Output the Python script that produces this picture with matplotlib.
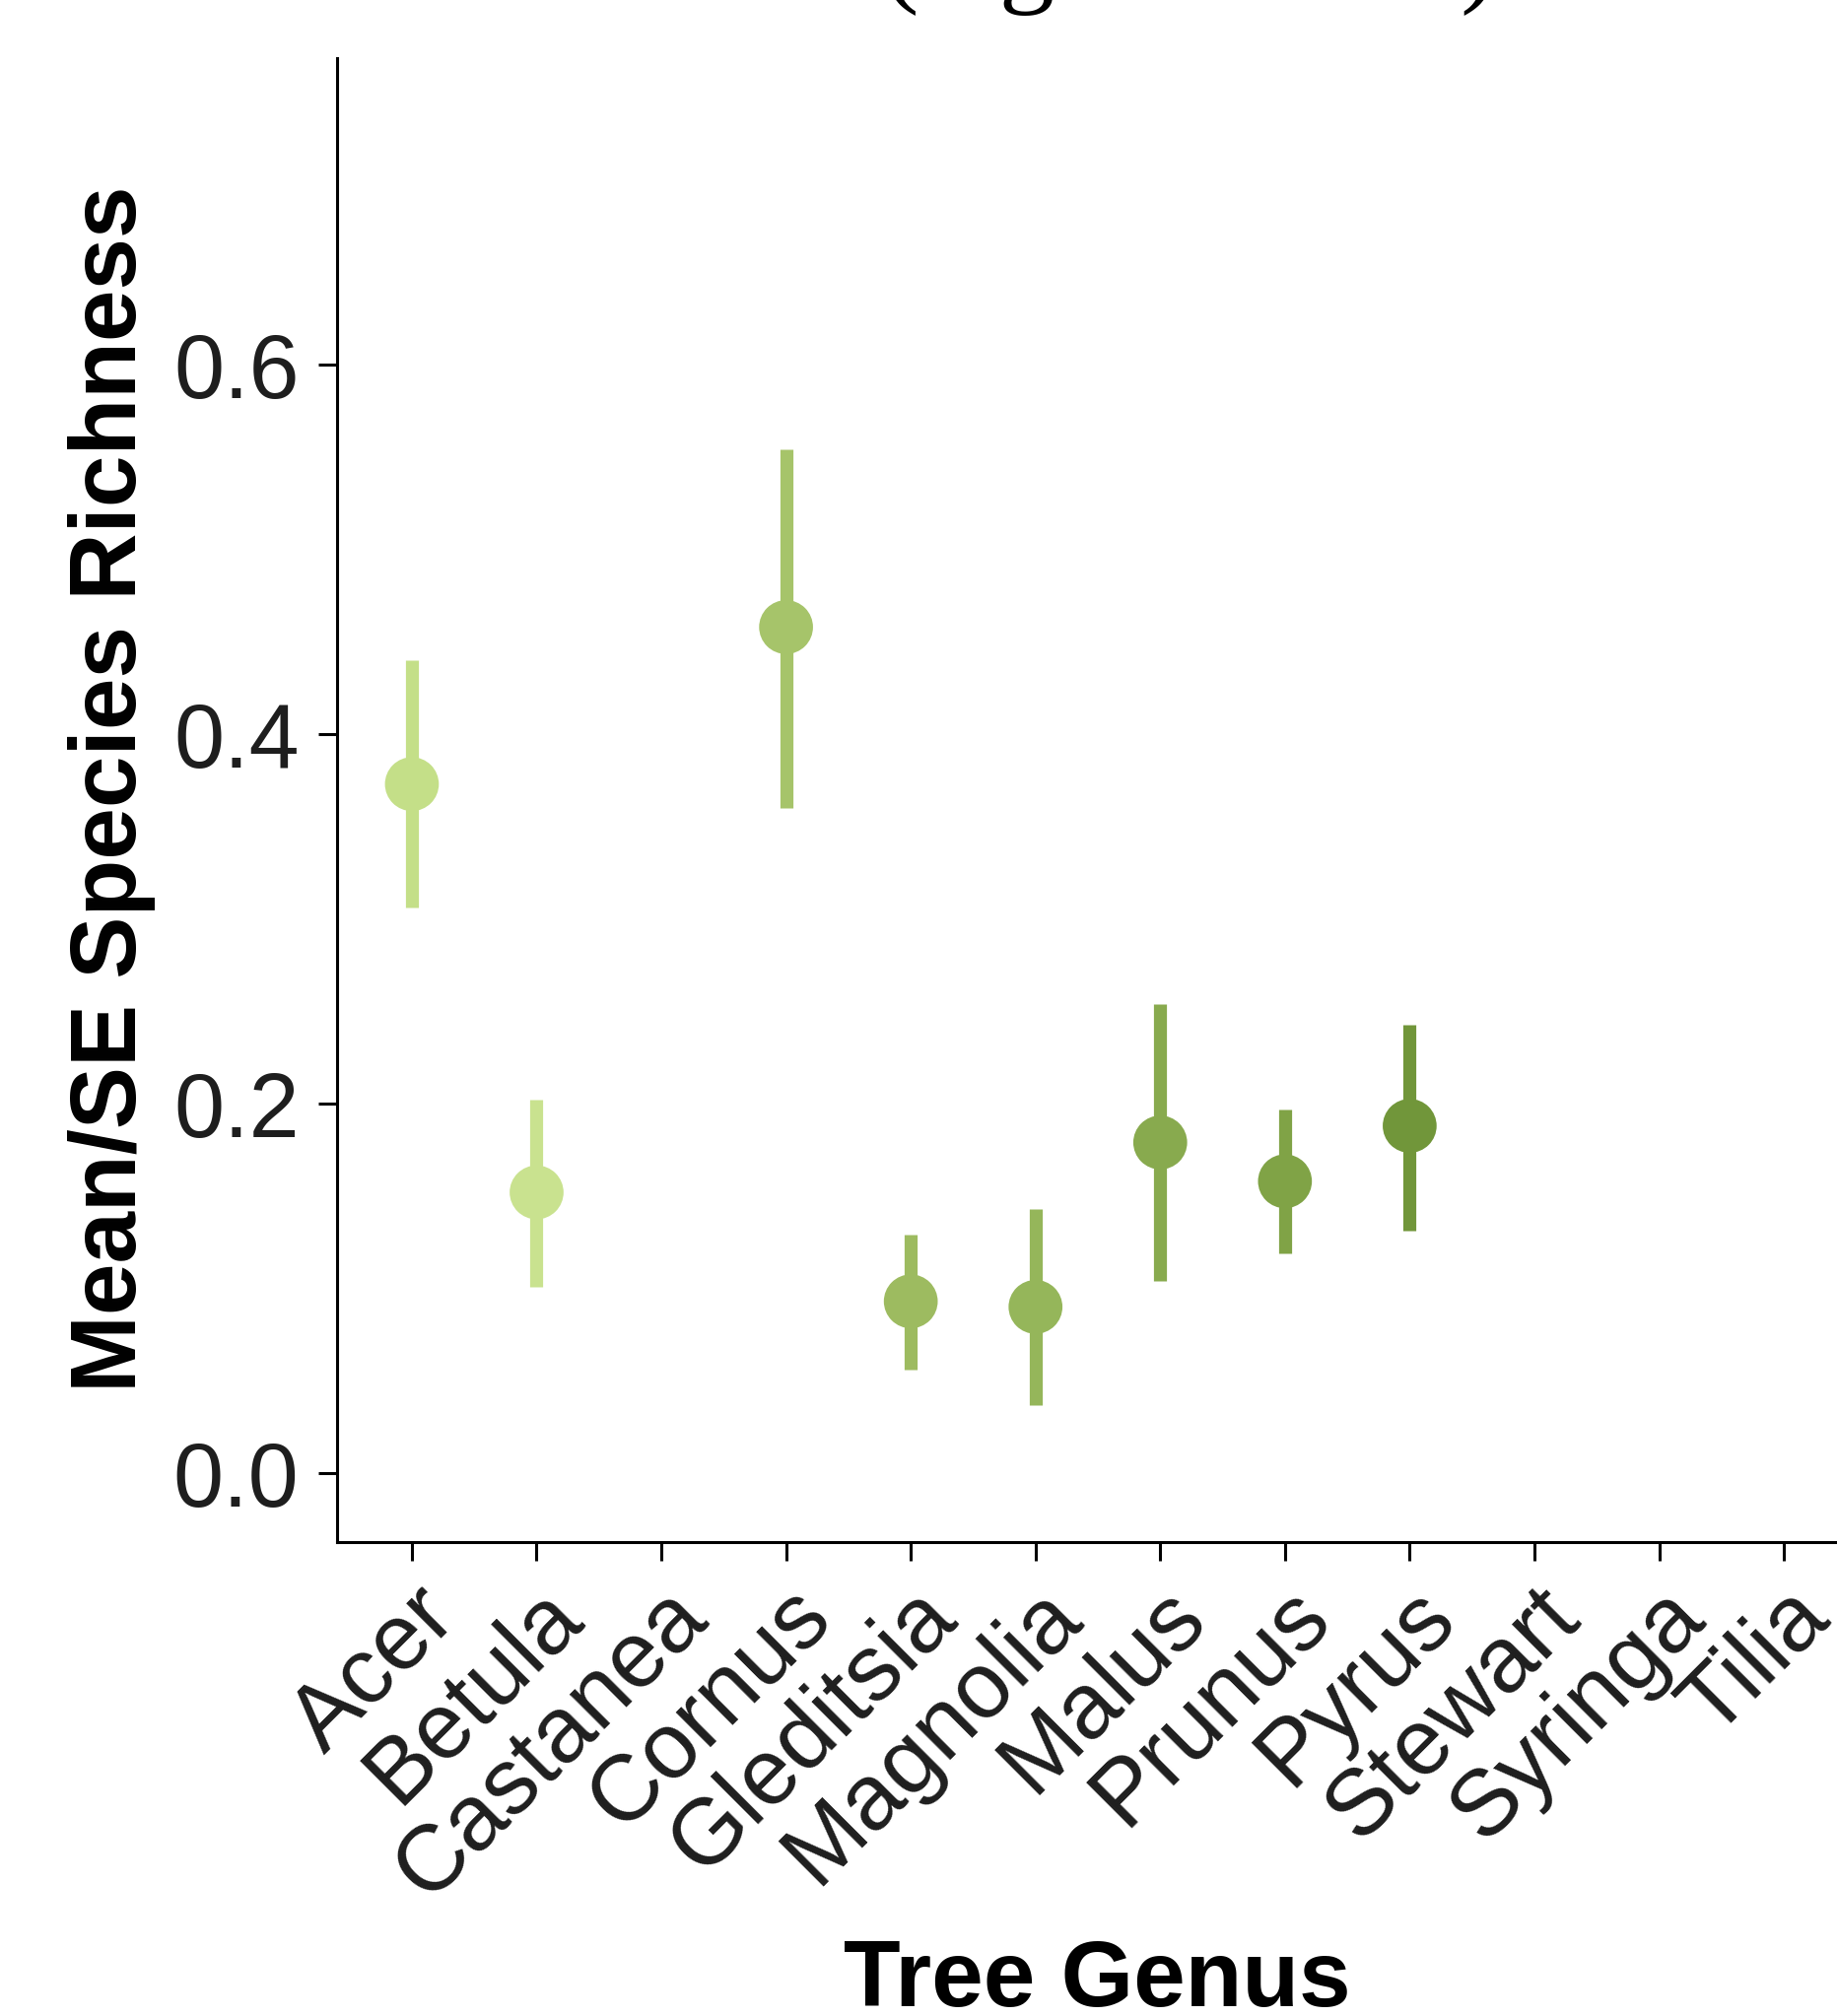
import matplotlib as mpl
mpl.use('Agg')
import matplotlib.pyplot as plt
import numpy as np

# genus-level richness estimates (mean with SE range)
genus = ["Acer", "Betula", "Castanea", "Cornus", "Gleditsia", "Magnolia",
         "Malus", "Prunus", "Pyrus", "Stewart", "Syringa", "Tilia"]
mean = [0.373, 0.152, np.nan, 0.458, 0.093, 0.090,
        0.179, 0.158, 0.188, np.nan, np.nan, np.nan]
lower = [0.306, 0.101, np.nan, 0.360, 0.056, 0.037,
         0.104, 0.119, 0.131, np.nan, np.nan, np.nan]
upper = [0.440, 0.202, np.nan, 0.554, 0.129, 0.143,
         0.254, 0.197, 0.243, np.nan, np.nan, np.nan]

# light -> dark green ramp, one per genus
colors = ["#c4df88", "#c9e28f", "#b8d47c", "#a6c46a", "#9dbb60", "#95b65a",
          "#88aa4e", "#80a346", "#71963a", "#66892f", "#5d7f28", "#547522"]

W, H = 1864, 2046
fig = plt.figure(figsize=(W / 100, H / 100), dpi=100)
fig.patch.set_facecolor("white")

# panel runs a little past the right edge (original figure was cropped)
ax = fig.add_axes([342 / W, 1 - 1565 / H, (1886 - 342) / W, (1565 - 59) / H])

ax.vlines(genus, lower, upper, colors=colors, linewidth=9.5, capstyle="butt", zorder=2)
ax.scatter(genus, mean, s=1550, c=colors, linewidths=0, zorder=3)

ax.set_xlim(-0.6, 11.6)
ax.set_ylim(-0.0373, 0.766)
ax.set_yticks([0.0, 0.2, 0.4, 0.6])
ax.set_yticklabels(["0.0", "0.2", "0.4", "0.6"])

for side in ["top", "right"]:
    ax.spines[side].set_visible(False)
for side in ["left", "bottom"]:
    ax.spines[side].set_linewidth(2.2)
    ax.spines[side].set_color("black")

ax.tick_params(axis="both", length=13.7, width=2.2, color="black",
               labelcolor="#1e1e1e")
ax.tick_params(axis="y", pad=14, labelsize=66)
ax.tick_params(axis="x", pad=8, labelsize=68)
for lab in ax.get_yticklabels():
    lab.set_fontfamily("Liberation Sans")
for lab in ax.get_xticklabels():
    lab.set_fontfamily("Liberation Sans")
    lab.set_rotation(45)
    lab.set_ha("right")
    lab.set_va("top")
    lab.set_rotation_mode("anchor")

fig.text(1113 / W, 1 - 2036 / H, "Tree Genus", ha="center", va="baseline",
         fontsize=68, fontweight="bold", family="Liberation Sans", color="black")
fig.text(138 / W, 1 - 801 / H, "Mean/SE Species Richness", ha="center",
         va="baseline", rotation=90, rotation_mode="anchor",
         fontsize=68, fontweight="bold", family="Liberation Sans", color="black")

# title of the panel above, only its descenders survive the crop
fig.text(895 / W, 1 + 8 / H, "(Agricultural)", ha="left", va="baseline",
         fontsize=81, family="Liberation Serif", color="black")

fig.savefig("out.png", dpi=100)
